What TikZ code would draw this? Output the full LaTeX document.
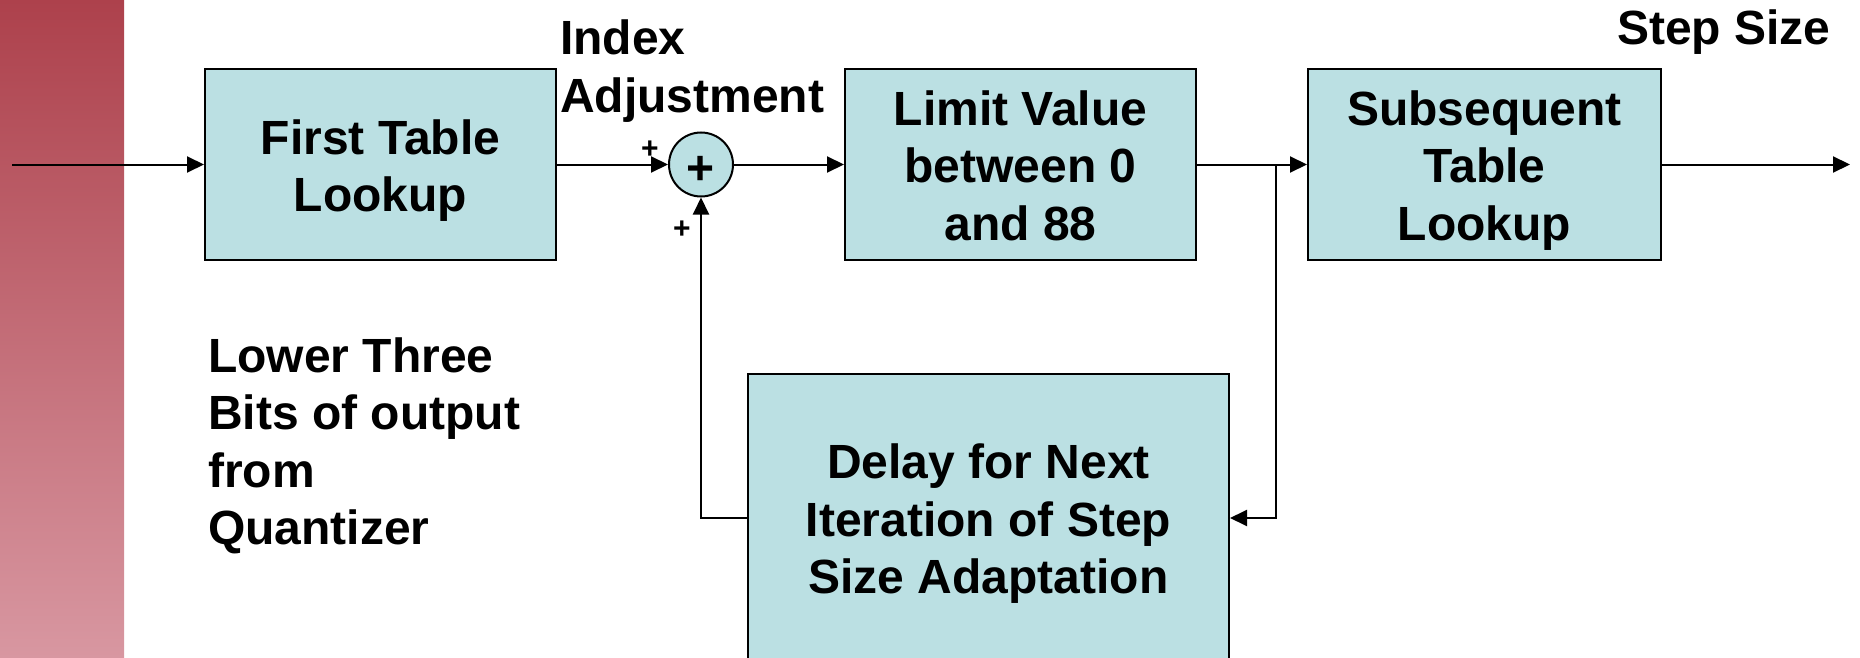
\documentclass[tikz,border=0pt]{standalone}
\usepackage{fontspec}
\setmainfont{Liberation Sans}
\usetikzlibrary{arrows.meta}
\definecolor{boxfill}{RGB}{187,224,227}
\definecolor{bandtop}{RGB}{173,65,76}
\definecolor{bandbot}{RGB}{216,151,161}
\newcommand\bigbold{\fontsize{48}{57.5}\selectfont\bfseries}
\newcommand\smallbold{\fontsize{30}{34}\selectfont\bfseries}
% line strut: gives first and last text lines a fixed height and depth
\newcommand\ls{\rule[-10.5pt]{0pt}{57.5pt}}
\begin{document}
\begin{tikzpicture}[x=1pt,y=-1pt,
  txt/.style={font=\bigbold,inner sep=0pt},
  blk/.style={txt,draw,line width=2pt,fill=boxfill,align=center},
  sumnode/.style={circle,draw,line width=2pt,fill=boxfill,minimum size=64pt,inner sep=0pt},
  conn/.style={line width=2pt,-{Triangle[length=17pt,width=16pt]}},
  sign/.style={font=\smallbold,inner sep=0pt}]
\useasboundingbox (0,0) rectangle (1860,658);
\clip (0,0) rectangle (1860,658);
% shaded band on the left
\shade[top color=bandtop,bottom color=bandbot] (0,0) rectangle (124,658);

% blocks
\node[blk,minimum width=351pt,minimum height=191pt] (first) at (380.5,164.5) {\ls First Table\\Lookup\ls};
\node[sumnode] (sum) at (701,164.5) {};
\node[font=\bigbold,inner sep=0pt] (plus) at (701,170) {+};
\node[blk,minimum width=351pt,minimum height=191pt] (limit) at (1020.5,164.5) {\ls Limit Value\\between 0\\and 88\ls};
\node[blk,minimum width=353pt,minimum height=191pt] (sub) at (1484.5,164.5) {\ls Subsequent\\Table\\Lookup\ls};
\node[blk,minimum width=481pt,minimum height=288pt] (delay) at (988.5,518) {\ls Delay for Next\\Iteration of Step\\Size Adaptation\ls};

% labels
\node[txt,align=left,anchor=west] (idx) at (560,65.5) {\ls Index\\Adjustment\ls};
\node[txt,anchor=west] (step) at (1617,26.5) {\ls Step Size\ls};
\node[txt,align=left,anchor=west] (lower) at (208,440) {\ls Lower Three\\Bits of output\\from\\Quantizer\ls};
\node[sign] (p1) at (650,150) {+};
\node[sign] (p2) at (682,230) {+};

% connectors
\coordinate (in) at (12,164.5);
\coordinate (out) at (1850,164.5);
\coordinate (br) at (1276,164.5);
\draw[conn] (in) -- (first.west);
\draw[conn] (first.east) -- (sum.west);
\draw[conn] (sum.east) -- (limit.west);
\draw[conn] (limit.east) -- (sub.west);
\draw[conn] (sub.east) -- (out);
\draw[conn] (br) |- (delay.east);
\draw[conn] (delay.west) -| (sum.south);
\end{tikzpicture}
\end{document}
